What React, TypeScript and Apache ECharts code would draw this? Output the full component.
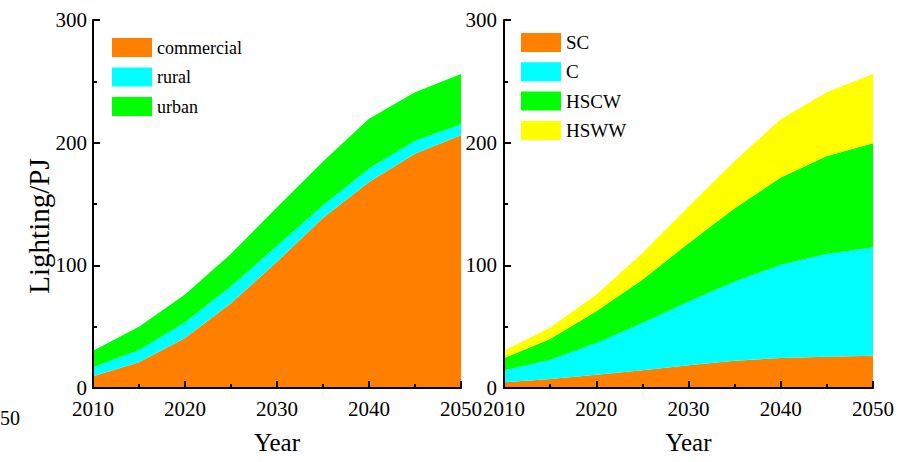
import React, { useEffect, useRef } from "react";
import * as echarts from "echarts";

const years = ["2010", "2015", "2020", "2025", "2030", "2035", "2040", "2045", "2050"];
const commercial = [9.5, 21, 40.7, 69, 103, 138.5, 168, 191, 206];
const rural = [7.5, 10, 13, 14, 13, 10.5, 11, 10.5, 9];
const urban = [13.4, 19, 22.5, 26.4, 31.4, 35.6, 40.4, 39.5, 41];
const sc = [4.6, 7.3, 10.9, 14.4, 18.5, 22.3, 24.4, 25.5, 26.3];
const c = [9.8, 15.7, 25.8, 38.6, 52.1, 64.6, 76.1, 83.9, 88.3];
const hscw = [10, 17, 25.8, 35.2, 47.4, 59.7, 71.1, 79.8, 85];
const hsww = [6, 9.4, 13.5, 21.8, 30, 38.4, 47.4, 51.8, 56.4];

const FONT = "Liberation Serif";
const ORANGE = "#FF8000";
const CYAN = "#00FFFF";
const GREEN = "#00FF00";
const YELLOW = "#FFFF00";

// hidden category axis the series are drawn on
function xAxisData(gridIndex: number) {
  return {
    type: "category",
    gridIndex,
    position: "bottom",
    data: years,
    boundaryGap: false,
    show: false,
  };
}

// visible value axis with major + minor ticks
function xAxisShown(gridIndex: number) {
  return {
    type: "value",
    gridIndex,
    position: "bottom",
    min: 2010,
    max: 2050,
    interval: 10,
    name: "Year",
    nameLocation: "middle",
    nameGap: 42,
    nameMoveOverlap: false,
    nameTextStyle: { fontFamily: FONT, fontSize: 25, color: "#000" },
    axisLine: { show: true, lineStyle: { color: "#000", width: 2 } },
    axisTick: { show: true, inside: true, length: 7, lineStyle: { color: "#000", width: 2 } },
    minorTick: { show: true, splitNumber: 2, length: 4, lineStyle: { color: "#000", width: 2 } },
    splitLine: { show: false },
    minorSplitLine: { show: false },
    axisLabel: {
      fontFamily: FONT,
      fontSize: 21,
      color: "#000",
      margin: 13,
      lineHeight: 16,
      showMinLabel: true,
      showMaxLabel: true,
      formatter: (v: number) => String(v),
    },
    z: 5,
  };
}

function yAxis(gridIndex: number, margin: number) {
  return {
    type: "value",
    gridIndex,
    min: 0,
    max: 300,
    interval: 100,
    axisLine: { show: true, lineStyle: { color: "#000", width: 2 } },
    axisTick: { show: true, inside: true, length: 7, lineStyle: { color: "#000", width: 2 } },
    minorTick: { show: true, splitNumber: 2, length: 4, lineStyle: { color: "#000", width: 2 } },
    splitLine: { show: false },
    minorSplitLine: { show: false },
    axisLabel: { fontFamily: FONT, fontSize: 21, color: "#000", margin, lineHeight: 16 },
    z: 5,
  };
}

function area(name: string, vals: number[], color: string, idx: number, stack: string) {
  return {
    name,
    type: "line",
    xAxisIndex: idx * 2,
    yAxisIndex: idx,
    stack,
    data: vals,
    symbol: "none",
    showSymbol: false,
    lineStyle: { width: 0 },
    itemStyle: { color },
    areaStyle: { color, opacity: 1 },
    z: 2,
  };
}

export default function App() {
  const ref = useRef<HTMLDivElement>(null);
  useEffect(() => {
    if (!ref.current) return;
    const chart = echarts.init(ref.current, null, { renderer: "svg" });
    chart.setOption({
      animation: false,
      backgroundColor: "#fff",
      grid: [
        { left: 93, top: 20, width: 368, height: 368, containLabel: false, outerBoundsMode: "none" },
        { left: 504, top: 20, width: 369, height: 368, containLabel: false, outerBoundsMode: "none" },
      ],
      xAxis: [xAxisData(0), xAxisShown(0), xAxisData(1), xAxisShown(1)],
      yAxis: [yAxis(0, 6), yAxis(1, 7)],
      legend: [
        {
          data: ["commercial", "rural", "urban"],
          orient: "vertical",
          left: 112,
          top: 38,
          padding: 0,
          itemWidth: 40,
          itemHeight: 19,
          itemGap: 10.5,
          icon: "rect",
          textStyle: { fontFamily: FONT, fontSize: 18, color: "#000" },
        },
        {
          data: ["SC", "C", "HSCW", "HSWW"],
          orient: "vertical",
          left: 521,
          top: 33,
          padding: 0,
          itemWidth: 40,
          itemHeight: 19,
          itemGap: 10.3,
          icon: "rect",
          textStyle: { fontFamily: FONT, fontSize: 19, color: "#000" },
        },
      ],
      graphic: [
        {
          type: "text",
          x: 39,
          y: 226,
          rotation: Math.PI / 2,
          style: {
            text: "Lighting/PJ",
            fontFamily: FONT,
            fontSize: 29,
            fill: "#000",
            textAlign: "center",
            textVerticalAlign: "middle",
          },
        },
        {
          type: "text",
          x: 20,
          y: 418,
          style: {
            text: "50",
            fontFamily: FONT,
            fontSize: 20,
            fill: "#000",
            textAlign: "right",
            textVerticalAlign: "middle",
          },
        },
      ],
      series: [
        area("commercial", commercial, ORANGE, 0, "a"),
        area("rural", rural, CYAN, 0, "a"),
        area("urban", urban, GREEN, 0, "a"),
        area("SC", sc, ORANGE, 1, "b"),
        area("C", c, CYAN, 1, "b"),
        area("HSCW", hscw, GREEN, 1, "b"),
        area("HSWW", hsww, YELLOW, 1, "b"),
      ],
    });
    return () => chart.dispose();
  }, []);
  return (
    <div
      ref={ref}
      style={{ position: "fixed", left: 0, top: 0, width: 914, height: 462 }}
    />
  );
}
